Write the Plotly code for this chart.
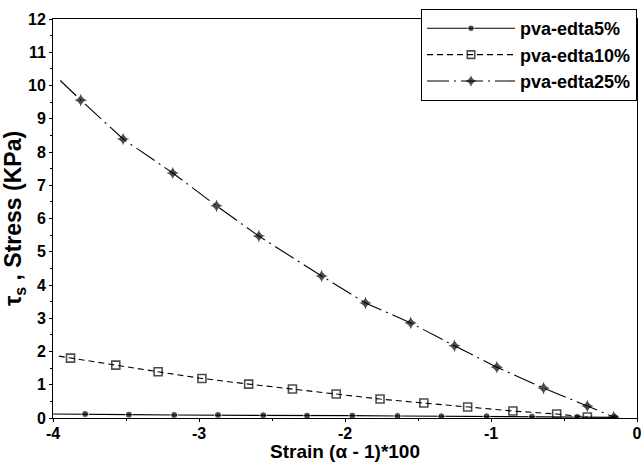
import plotly.graph_objects as go

# Data
x5 = [-4.0, -3.78, -3.48, -3.17, -2.87, -2.56, -2.26, -1.95, -1.64, -1.34, -1.03, -0.72, -0.41, -0.15]
y5 = [0.12, 0.12, 0.10, 0.09, 0.09, 0.08, 0.07, 0.07, 0.06, 0.05, 0.05, 0.04, 0.03, 0.02]
m5 = [0, 7, 7, 7, 7, 7, 7, 7, 7, 7, 7, 7, 7, 7]

x10 = [-3.96, -3.88, -3.57, -3.28, -2.98, -2.66, -2.36, -2.06, -1.76, -1.46, -1.16, -0.85, -0.55, -0.34]
y10 = [1.86, 1.80, 1.59, 1.39, 1.19, 1.02, 0.87, 0.72, 0.57, 0.45, 0.33, 0.21, 0.12, 0.03]
m10 = [0, 8, 8, 8, 8, 8, 8, 8, 8, 8, 8, 8, 8, 8]

x25 = [-3.95, -3.81, -3.52, -3.18, -2.88, -2.59, -2.16, -1.86, -1.55, -1.25, -0.96, -0.64, -0.34, -0.16]
y25 = [10.15, 9.56, 8.39, 7.37, 6.38, 5.47, 4.27, 3.46, 2.86, 2.17, 1.53, 0.90, 0.36, 0.03]
m25 = [0, 9, 9, 9, 9, 9, 9, 9, 9, 9, 9, 9, 9, 9]

names = ["pva-edta5%", "pva-edta10%", "pva-edta25%"]

xtick_vals = [-4, -3, -2, -1, 0]
xtick_text = ["-4", "-3", "-2", "-1", "0"]
ytick_vals = list(range(0, 13))
ytick_text = [str(v) for v in ytick_vals]

font_family = "Liberation Sans, Arial, sans-serif"

fig = go.Figure()
fig.add_trace(go.Scatter(
    x=x5, y=y5, name=names[0], mode="lines+markers",
    line=dict(color="black", width=1.2, dash="solid"),
    marker=dict(symbol="circle", size=m5, color="black"),
))
fig.add_trace(go.Scatter(
    x=x10, y=y10, name=names[1], mode="lines+markers",
    line=dict(color="black", width=1.1, dash="6px,4px"),
    marker=dict(symbol="square-open", size=m10, color="black", line=dict(width=1.6, color="black")),
))
fig.add_trace(go.Scatter(
    x=x25, y=y25, name=names[2], mode="lines+markers",
    line=dict(color="black", width=1.1, dash="22px,5px,2px,5px"),
    marker=dict(symbol="star-diamond", size=m25, color="black", line=dict(width=0)),
))

axis_common = dict(
    showline=True, linecolor="black", linewidth=1, mirror=True,
    ticks="outside", ticklen=3, tickwidth=1, tickcolor="black",
    showgrid=False, zeroline=False, automargin=False,
    tickfont=dict(family=font_family, size=16, color="black", weight="bold"),
)

fig.update_xaxes(
    range=[-4, 0], tickvals=xtick_vals, ticktext=xtick_text,
    minor=dict(dtick=0.5, ticks="outside", ticklen=2, tickcolor="black"),
    ticklabelstandoff=-2,
    title=dict(text="Strain (α - 1)*100", standoff=4,
               font=dict(family=font_family, size=19, color="black", weight="bold")),
    **axis_common,
)
fig.update_yaxes(
    range=[0, 12], tickvals=ytick_vals, ticktext=ytick_text,
    minor=dict(dtick=0.5, ticks="outside", ticklen=2, tickcolor="black"),
    title=dict(text="τ<sub>s</sub> , Stress (KPa)", standoff=4,
               font=dict(family=font_family, size=23, color="black", weight="bold")),
    **axis_common,
)

fig.update_layout(
    width=642, height=462,
    margin=dict(l=53, r=5, t=19, b=44),
    plot_bgcolor="white", paper_bgcolor="white",
    showlegend=True,
    legend=dict(
        x=1.0, y=1.025, xanchor="right", yanchor="top",
        bgcolor="white", bordercolor="black", borderwidth=1,
        font=dict(family=font_family, size=18, color="black", weight="bold"),
        itemwidth=88, tracegroupgap=0,
    ),
)

fig.write_html(
    "out.html",
    config={"displayModeBar": False},
    post_script="document.body.style.margin='0';document.body.style.overflow='hidden';",
)
